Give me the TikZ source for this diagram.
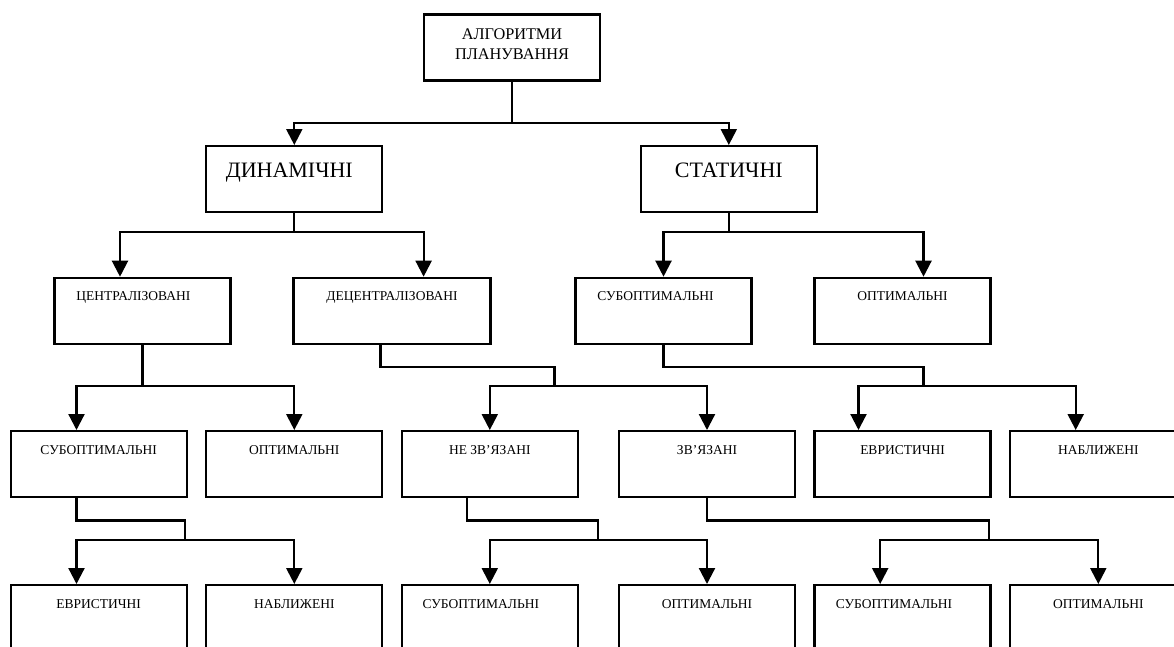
\documentclass[tikz,border=0pt]{standalone}
\usepackage{fontspec}
\setmainfont{Liberation Serif}
\usetikzlibrary{arrows.meta}

\begin{document}
\begin{tikzpicture}[
        x=1pt, y=-1pt,
        box/.style={draw=black, line width=2.2pt, fill=white, inner sep=0pt, minimum width=176pt, anchor=north,
                    font=\fontsize{13.5}{16}\selectfont, text height=23pt, text depth=43pt},
        bigbox/.style={box, font=\fontsize{22}{26}\selectfont, text height=31.5pt, text depth=34.5pt},
        rootbox/.style={box, align=center, font=\fontsize{16.3}{19.7}\selectfont, text height=44.7pt, text depth=21.3pt},
        link/.style={line width=2.2pt, draw=black},
        arr/.style={link, -{Triangle[width=16pt,length=16pt]}}
    ]
        \useasboundingbox (0,0) rectangle (1174,646);
        \clip (0,0) rectangle (1174,646);

        % Root
        \node[rootbox] (root) at (512, 13.3) {АЛГОРИТМИ\\ПЛАНУВАННЯ};

        % Level 1
        \node[bigbox] (dyn) at (294.3, 145) {ДИНАМІЧНІ\hspace*{10pt}};
        \node[bigbox] (stat) at (728.8, 145) {СТАТИЧНІ};

        % Level 2
        \node[box] (cent) at (142.4, 276.7) {ЦЕНТРАЛІЗОВАНІ\hspace*{18pt}};
        \node[box, minimum width=197pt] (decent) at (392, 276.7) {ДЕЦЕНТРАЛІЗОВАНІ};
        \node[box] (subS) at (663.5, 276.7) {СУБОПТИМАЛЬНІ\hspace*{16pt}};
        \node[box] (optS) at (902.5, 276.7) {ОПТИМАЛЬНІ};

        % Level 3
        \node[box] (subC) at (98.7, 430) {СУБОПТИМАЛЬНІ};
        \node[box] (optC) at (294.3, 430) {ОПТИМАЛЬНІ};
        \node[box] (notlinked) at (489.8, 430) {НЕ ЗВ’ЯЗАНІ};
        \node[box] (linked) at (707, 430) {ЗВ’ЯЗАНІ};
        \node[box] (heurS) at (902.5, 430) {ЕВРИСТИЧНІ};
        \node[box] (approxS) at (1098.3, 430) {НАБЛИЖЕНІ};

        % Level 4
        \node[box] (heurC) at (98.7, 584) {ЕВРИСТИЧНІ};
        \node[box] (approxC) at (294.3, 584) {НАБЛИЖЕНІ};
        \node[box] (subN) at (489.8, 584) {СУБОПТИМАЛЬНІ\hspace*{18pt}};
        \node[box] (optN) at (707, 584) {ОПТИМАЛЬНІ};
        \node[box] (subL) at (902.5, 584) {СУБОПТИМАЛЬНІ\hspace*{17pt}};
        \node[box] (optL) at (1098.3, 584) {ОПТИМАЛЬНІ};

        % Junctions
        \coordinate (jRoot) at (512, 123.3);
        \coordinate (jDyn) at (294.3, 232.3);
        \coordinate (jStat) at (728.8, 232.3);
        \coordinate (jCent) at (142.4, 386);
        \coordinate (jDec) at (554.5, 386);
        \coordinate (jSubS) at (923.4, 386);
        \coordinate (jSubC) at (185.2, 539.7);
        \coordinate (jNot) at (598.2, 539.7);
        \coordinate (jLink) at (988.8, 539.7);

        % Relationships
        \draw[link] (root.south) -- (jRoot);
        \draw[arr] (jRoot) -| (dyn.north);
        \draw[arr] (jRoot) -| (stat.north);

        \draw[link] (dyn.south) -- (jDyn);
        \draw[arr] (jDyn) -| ([xshift=-22.4pt]cent.north);
        \draw[arr] (jDyn) -| ([xshift=31.6pt]decent.north);

        \draw[link] (stat.south) -- (jStat);
        \draw[arr] (jStat) -| (subS.north);
        \draw[arr] (jStat) -| ([xshift=21pt]optS.north);

        \draw[link] (cent.south) -- (jCent);
        \draw[arr] (jCent) -| ([xshift=-22.2pt]subC.north);
        \draw[arr] (jCent) -| (optC.north);

        \draw[link] ([xshift=-11.6pt]decent.south) -- ++(0,21.7) -| (jDec);
        \draw[arr] (jDec) -| (notlinked.north);
        \draw[arr] (jDec) -| (linked.north);

        \draw[link] (subS.south) -- ++(0,21.7) -| (jSubS);
        \draw[arr] (jSubS) -| ([xshift=-44pt]heurS.north);
        \draw[arr] (jSubS) -| ([xshift=-22.6pt]approxS.north);

        \draw[link] ([xshift=-22.2pt]subC.south) -- ++(0,22.3) -| (jSubC);
        \draw[arr] (jSubC) -| ([xshift=-22.2pt]heurC.north);
        \draw[arr] (jSubC) -| (approxC.north);

        \draw[link] ([xshift=-22.5pt]notlinked.south) -- ++(0,22.3) -| (jNot);
        \draw[arr] (jNot) -| (subN.north);
        \draw[arr] (jNot) -| (optN.north);

        \draw[link] (linked.south) -- ++(0,22.3) -| (jLink);
        \draw[arr] (jLink) -| ([xshift=-22.3pt]subL.north);
        \draw[arr] (jLink) -| (optL.north);
    \end{tikzpicture}
\end{document}
